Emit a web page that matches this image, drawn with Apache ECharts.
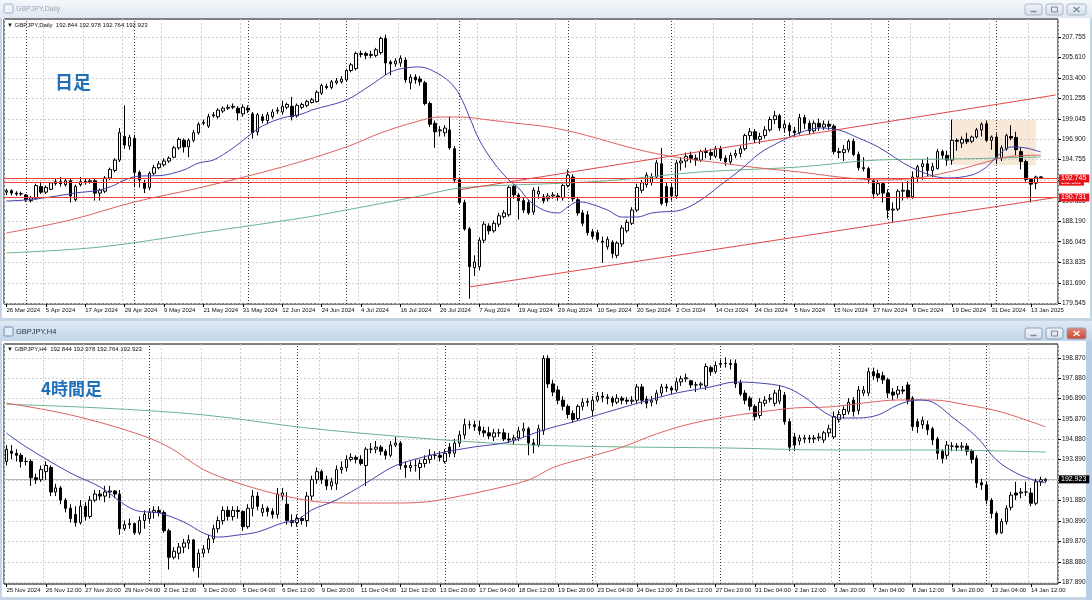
<!DOCTYPE html>
<html>
<head>
<meta charset="utf-8">
<title>GBPJPY Daily / H4</title>
<script src="https://cdn.jsdelivr.net/npm/echarts@6/dist/echarts.min.js"></script>
<style>
html,body{margin:0;padding:0;background:#c9d7e6;overflow:hidden;}
#chart{width:1092px;height:600px;}
</style>
</head>
<body>
<div id="chart"></div>
<script>
// ---------------- data ----------------
const quoteText = '192.844 192.978 192.764 192.923';
const dailyTimeLabels = ['26 Mar 2024','5 Apr 2024','17 Apr 2024','29 Apr 2024','9 May 2024','21 May 2024','31 May 2024','12 Jun 2024','24 Jun 2024','4 Jul 2024','16 Jul 2024','26 Jul 2024','7 Aug 2024','19 Aug 2024','29 Aug 2024','10 Sep 2024','20 Sep 2024','2 Oct 2024','14 Oct 2024','24 Oct 2024','5 Nov 2024','15 Nov 2024','27 Nov 2024','9 Dec 2024','19 Dec 2024','31 Dec 2024','13 Jan 2025'];
const h4TimeLabels = ['25 Nov 2024','26 Nov 12:00','27 Nov 20:00','29 Nov 04:00','2 Dec 12:00','3 Dec 20:00','5 Dec 04:00','6 Dec 12:00','9 Dec 20:00','11 Dec 04:00','12 Dec 12:00','13 Dec 20:00','17 Dec 04:00','18 Dec 12:00','19 Dec 20:00','23 Dec 04:00','24 Dec 12:00','26 Dec 12:00','27 Dec 20:00','31 Dec 04:00','2 Jan 12:00','3 Jan 20:00','7 Jan 04:00','8 Jan 12:00','9 Jan 20:00','13 Jan 04:00','14 Jan 12:00'];
const labelStep = 8;
const slotCount = 214;
const dailyPriceLabels = [207.755,205.610,203.400,201.255,199.045,196.900,194.755,192.545,190.335,188.190,186.045,183.835,181.690,179.545];
const h4PriceLabels = [198.870,197.880,196.890,195.870,194.880,193.890,192.880,191.880,190.890,189.870,188.880,187.890];
const dailyRange = [179.44, 209.66];
const h4Range = [187.79, 199.556];

// daily candles [open, close, low, high]
const dailyCandles = [
[191.30,191.45,191.00,191.65],[191.45,191.20,190.95,191.60],[191.20,191.10,190.90,191.40],[191.10,191.15,190.90,191.35],[191.00,190.50,190.30,191.10],
[190.40,190.70,190.20,190.90],[190.60,192.00,190.50,192.20],[191.90,191.30,191.10,192.40],[191.30,191.80,191.10,192.00],[191.60,192.30,191.50,192.40],
[192.20,192.40,192.00,192.80],[192.40,192.20,191.90,192.90],[192.10,192.50,191.90,192.80],[192.50,190.90,190.20,192.70],[190.50,191.90,190.30,192.10],
[192.10,192.40,191.90,192.90],[192.40,192.45,192.10,192.70],[192.40,192.50,192.20,192.80],[192.50,191.20,190.40,192.70],[191.20,191.50,190.40,191.70],
[191.40,192.80,191.20,193.00],[192.80,193.70,192.60,193.90],[193.60,194.70,193.40,194.90],[194.70,197.60,194.50,198.10],[197.20,196.30,195.90,200.50],
[196.20,197.10,195.80,197.40],[197.00,193.40,191.80,197.40],[193.40,192.60,191.80,193.60],[192.30,191.70,191.20,192.60],[191.80,193.30,191.50,193.50],
[193.30,193.90,193.10,194.20],[193.90,194.30,193.70,194.60],[194.20,194.60,194.00,194.90],[194.60,194.90,194.40,195.10],[195.00,196.00,194.90,196.20],
[196.00,196.90,195.80,197.10],[196.80,196.10,195.50,197.00],[196.10,196.80,195.00,197.00],[196.80,197.60,196.60,197.90],[197.60,198.50,197.40,198.70],
[198.60,198.70,198.40,199.00],[198.30,199.30,198.10,199.60],[199.40,199.50,199.20,199.80],[199.30,200.00,199.10,200.20],[199.90,200.20,199.70,200.40],
[200.20,200.30,200.00,200.60],[200.30,200.40,200.10,200.70],[200.20,199.70,198.90,200.40],[199.60,200.30,199.30,200.60],[200.20,200.00,199.70,200.50],
[199.60,197.60,197.00,199.80],[197.70,199.50,197.30,199.70],[199.30,198.90,198.60,199.60],[198.90,199.50,198.50,199.80],[199.30,199.80,199.10,200.10],
[199.90,200.00,199.60,200.30],[199.80,200.40,199.50,201.00],[200.30,200.60,200.10,200.80],[200.40,199.30,198.90,201.40],[199.40,200.50,199.20,200.70],
[200.30,200.60,200.10,200.80],[200.50,200.90,200.30,201.10],[200.80,201.10,200.70,201.30],[200.90,201.90,200.80,202.10],[201.80,202.60,201.60,202.80],
[202.50,202.40,202.20,202.80],[202.40,203.00,202.20,203.20],[202.90,203.10,202.70,203.40],[203.00,203.30,202.80,203.60],[203.20,204.20,203.00,204.40],
[204.20,204.80,204.00,205.00],[204.40,206.00,204.20,206.20],[205.90,206.00,205.60,206.30],[206.00,205.80,205.40,206.20],[205.80,205.90,205.50,206.30],
[205.80,206.40,205.60,206.60],[206.10,207.60,205.90,207.80],[207.60,205.00,203.70,208.00],[205.10,204.90,203.70,205.30],[204.90,205.20,204.60,205.50],
[205.00,205.50,204.60,205.80],[205.30,203.20,202.90,205.60],[202.90,203.50,202.20,203.80],[203.50,203.20,202.80,203.80],[203.30,203.00,202.60,203.60],
[202.90,200.70,200.50,203.10],[200.70,198.50,198.20,200.90],[198.60,197.70,196.00,198.90],[197.80,197.90,197.20,198.30],[197.60,198.10,197.20,198.40],
[197.90,196.00,195.80,199.30],[195.90,192.60,192.30,196.20],[192.60,190.20,190.00,192.90],[190.20,187.40,187.20,190.50],[187.40,183.40,180.00,187.60],
[183.30,183.90,182.40,184.60],[183.40,186.20,183.00,186.50],[186.20,187.90,185.90,188.20],[187.70,187.20,186.80,188.00],[187.20,188.00,187.00,188.30],
[187.90,188.80,187.60,189.10],[188.70,189.10,188.50,189.40],[188.90,191.80,188.70,192.00],[191.90,191.00,190.60,192.10],[191.00,190.40,188.40,191.20],
[190.40,189.40,189.10,190.70],[190.20,189.10,188.90,190.50],[189.20,191.50,188.90,191.80],[191.10,191.40,190.60,191.90],[190.80,190.40,190.10,191.10],
[190.60,190.90,190.30,191.20],[190.90,191.00,190.60,191.30],[190.90,190.80,190.40,191.20],[190.70,192.00,190.40,192.20],[192.00,193.10,191.80,193.70],
[192.90,190.60,190.30,193.20],[190.50,189.10,188.80,190.80],[189.10,188.00,187.70,189.40],[188.90,187.00,186.70,189.30],[187.10,186.60,186.30,187.40],
[187.00,186.30,186.00,187.30],[186.10,186.00,183.80,186.60],[185.50,186.30,185.20,186.60],[186.00,184.80,184.30,186.20],[184.60,185.90,184.30,186.10],
[185.80,187.50,185.50,187.80],[187.20,188.10,187.00,188.40],[188.00,189.40,187.80,189.70],[189.40,191.80,189.20,192.20],[191.50,192.30,191.20,192.60],
[192.10,193.10,191.80,193.40],[192.30,192.90,192.00,193.30],[192.90,194.40,192.70,194.70],[194.30,190.10,189.90,196.00],[191.90,190.20,189.80,192.30],
[191.80,190.90,190.40,192.20],[190.90,194.40,190.60,194.70],[194.40,194.60,193.60,195.00],[194.60,195.10,193.90,195.50],[195.20,194.90,194.40,195.60],
[194.90,194.70,194.10,195.30],[194.70,195.60,194.50,195.80],[195.60,195.50,194.90,196.00],[195.50,195.20,194.70,195.90],[195.10,195.90,194.90,196.20],
[195.90,194.90,194.60,196.20],[194.90,194.50,194.10,195.20],[194.50,195.20,194.20,195.50],[195.20,195.40,194.90,195.80],[195.40,195.90,195.00,196.20],
[195.90,197.30,195.70,197.50],[197.30,197.70,196.80,198.10],[197.70,196.90,196.50,198.00],[196.90,197.20,196.40,197.60],[197.30,197.90,197.00,198.30],
[197.90,199.00,197.70,199.30],[199.00,199.40,198.50,199.90],[199.40,198.10,197.80,199.60],[198.10,198.50,197.60,198.90],[198.40,197.80,197.20,198.70],
[197.80,197.60,197.10,198.20],[197.60,199.20,197.40,199.60],[199.20,198.60,198.00,199.50],[198.60,197.80,197.40,198.90],[197.80,198.60,197.60,198.90],
[198.60,198.20,197.80,199.10],[198.20,198.50,197.90,198.90],[198.50,198.30,197.90,198.90],[198.30,195.60,195.30,198.50],[195.60,195.50,194.90,196.00],
[195.50,195.80,194.60,196.30],[195.80,196.70,195.50,196.90],[196.70,195.30,195.10,197.00],[195.30,193.90,193.60,195.60],[193.90,193.80,193.50,195.00],
[193.80,192.60,192.20,194.00],[192.50,191.10,190.60,192.70],[191.10,192.20,190.90,192.60],[192.20,191.20,190.20,192.40],[191.20,189.40,188.50,191.60],
[189.40,189.50,188.10,190.20],[189.50,191.40,189.30,191.60],[191.40,191.50,190.40,192.40],[191.50,190.80,190.60,192.50],[190.80,192.90,190.60,193.50],
[192.90,194.00,192.40,194.20],[194.00,194.30,192.60,194.80],[194.30,193.60,193.00,195.00],[193.60,194.00,192.90,194.40],[193.80,195.60,193.70,195.90],
[195.60,195.20,194.80,195.80],[195.20,194.70,194.10,195.70],[194.70,196.80,194.20,199.00],[196.80,196.70,195.70,197.00],[196.50,196.90,196.00,197.20],
[196.90,196.65,196.40,197.60],[196.70,197.15,196.50,197.30],[197.15,197.90,197.00,198.10],[197.90,198.50,197.20,198.70],[198.55,196.80,196.60,198.90],
[196.80,197.15,195.80,197.30],[197.15,194.90,194.30,197.55],[194.90,196.00,194.60,196.25],[195.90,197.30,195.70,197.50],[197.20,197.05,196.80,198.40],
[197.10,195.80,195.20,197.70],[195.60,194.55,193.70,196.00],[194.55,192.65,192.40,194.75],[192.65,192.15,190.20,192.80],[192.25,192.90,191.60,193.05],
[192.844,192.923,192.764,192.978]
];

// H4 candles [open, close, low, high]
const h4Candles = [
[193.8,194.4,193.6,194.6],[194.3,194.2,193.9,194.6],[194.2,194.1,193.8,194.4],[194.1,193.8,193.5,194.2],[193.8,193.8,193.6,194.0],
[193.8,193.0,192.6,193.9],[193.0,192.9,192.7,193.2],[192.9,193.4,192.8,193.6],[193.3,193.6,192.9,193.8],[193.5,192.3,192.1,193.6],
[192.3,192.5,192.1,192.7],[192.5,191.9,191.7,192.6],[191.9,191.5,191.3,192.0],[191.5,191.0,190.8,191.7],[191.2,190.8,190.6,191.6],
[190.8,191.6,190.7,191.9],[191.6,191.1,190.9,191.8],[191.1,191.9,191.0,192.1],[191.9,192.2,191.8,192.4],[192.2,192.1,191.9,192.4],
[192.1,192.3,191.8,192.6],[192.3,192.35,192.0,192.6],[192.35,192.2,192.0,192.4],[192.2,190.5,190.2,192.4],[190.5,190.7,190.4,190.9],
[190.7,190.75,190.5,191.0],[190.75,190.3,190.2,190.8],[190.3,190.9,190.2,191.1],[190.9,191.2,190.5,191.4],[191.0,191.3,190.8,191.5],
[191.3,191.4,191.0,191.6],[191.4,191.3,191.1,191.6],[191.3,190.4,190.3,191.4],[190.4,189.1,188.5,190.5],[189.1,189.4,189.0,189.6],
[189.3,189.6,189.0,189.8],[189.6,189.8,189.3,190.0],[189.8,189.95,189.5,190.2],[189.95,188.6,188.4,190.0],[188.6,189.3,188.1,189.5],
[189.3,189.5,189.1,189.7],[189.5,190.0,189.3,190.2],[190.0,190.5,189.8,190.7],[190.5,190.9,190.3,191.1],[190.9,191.4,190.7,191.6],
[191.4,191.1,190.9,191.6],[191.1,191.4,190.9,191.6],[191.4,191.35,191.0,191.6],[191.35,190.6,190.4,191.4],[190.6,191.5,190.5,191.7],
[191.5,192.1,191.1,192.4],[192.1,191.6,191.4,192.3],[191.3,191.5,191.1,191.7],[191.5,191.35,191.1,191.6],[191.35,191.2,191.0,191.5],
[191.2,192.2,191.0,192.5],[192.1,192.25,191.9,192.5],[191.7,190.9,190.7,192.3],[190.9,190.8,190.6,191.2],[190.8,191.0,190.6,191.2],
[191.0,190.9,190.7,191.1],[190.9,192.1,190.6,192.3],[192.1,192.9,191.9,193.1],[192.9,193.3,192.7,193.5],[193.3,192.9,192.7,193.4],
[192.9,192.6,192.4,193.1],[192.6,192.8,192.4,193.0],[192.7,193.4,192.4,193.6],[193.4,193.5,193.2,193.8],[193.5,193.9,193.3,194.1],
[193.9,194.0,193.8,194.2],[194.0,193.9,193.7,194.1],[193.9,193.7,193.6,194.1],[193.6,194.4,192.6,194.5],[194.4,194.4,194.2,194.7],
[194.4,194.5,194.2,194.8],[194.5,194.3,194.1,194.6],[194.3,194.1,193.9,194.4],[194.1,194.6,194.0,194.8],[194.6,194.7,194.5,195.0],
[194.7,193.6,193.4,194.8],[193.6,193.5,193.0,193.8],[193.5,193.6,193.3,193.8],[193.6,193.6,193.3,193.9],[193.5,193.7,192.9,193.9],
[193.7,193.9,193.5,194.1],[193.9,194.1,193.7,194.4],[194.1,194.1,193.9,194.3],[194.1,194.0,193.8,194.3],[193.8,194.2,193.7,194.4],
[194.5,194.2,194.0,194.7],[194.2,194.7,194.0,194.9],[194.7,195.1,194.5,195.3],[195.1,195.6,194.9,195.9],[195.6,195.6,195.4,195.8],
[195.6,195.5,195.3,195.8],[195.5,195.3,195.1,195.8],[195.3,195.2,195.0,195.5],[195.2,195.05,194.9,195.5],[195.0,195.2,194.8,195.4],
[195.2,195.2,195.0,195.4],[195.2,194.9,194.8,195.4],[194.9,194.85,194.7,195.2],[194.85,194.95,194.6,195.1],[194.95,195.3,194.8,195.5],
[195.3,195.4,195.0,195.7],[195.4,194.7,194.1,195.5],[194.7,194.6,194.2,194.9],[194.6,195.4,194.5,195.6],[195.3,198.85,195.1,199.0],
[198.85,197.6,197.4,199.0],[197.6,197.2,197.0,197.8],[197.3,196.8,196.6,197.5],[196.8,196.5,196.3,197.0],[196.5,196.1,195.9,196.6],
[196.15,195.85,195.7,196.3],[195.9,196.5,195.8,196.6],[196.5,196.7,196.3,196.9],[196.7,196.75,196.5,196.9],[196.3,196.8,196.0,197.0],
[196.8,197.0,196.7,197.2],[197.0,196.95,196.7,197.2],[196.95,196.9,196.6,197.1],[196.9,196.7,196.5,197.0],[196.7,196.9,196.6,197.1],
[196.9,196.8,196.6,197.0],[196.8,196.75,196.6,196.95],[196.75,196.8,196.6,197.0],[196.8,197.45,196.6,197.6],[197.45,196.8,196.6,197.6],
[196.85,196.65,196.4,197.0],[196.7,196.8,196.5,197.0],[196.8,197.15,196.6,197.3],[197.15,197.45,197.0,197.6],[197.45,197.4,197.2,197.6],
[197.4,197.3,197.1,197.5],[197.3,197.7,197.2,197.9],[197.7,197.85,197.5,198.0],[197.85,197.9,197.7,198.1],[197.75,197.55,197.4,197.8],
[197.55,197.55,197.2,197.7],[197.55,197.6,197.4,197.7],[197.5,198.45,197.3,198.6],[198.4,198.2,198.0,198.5],[198.2,198.5,198.1,198.7],
[198.55,198.6,198.4,198.8],[198.6,198.6,198.4,198.9],[198.6,198.55,198.3,198.8],[198.6,197.6,197.4,198.8],[197.65,197.1,197.0,197.8],
[197.15,196.8,196.6,197.3],[196.9,196.5,196.3,197.0],[196.5,196.0,195.8,196.6],[196.05,196.7,195.9,196.9],[196.65,196.8,196.5,197.0],
[196.85,196.9,196.7,197.1],[196.65,197.15,196.5,197.3],[196.75,197.3,196.6,197.55],[197.05,195.75,195.6,197.2],[195.75,194.5,194.3,195.9],
[195.0,194.6,194.3,195.2],[194.8,194.95,194.6,195.1],[194.9,194.95,194.7,195.1],[194.95,194.9,194.7,195.1],[194.9,194.95,194.7,195.1],
[194.95,195.0,194.8,195.2],[194.85,195.2,194.7,195.3],[195.2,195.4,195.0,195.6],[195.0,196.0,194.9,196.25],[195.85,196.1,195.7,196.3],
[196.1,196.35,195.9,196.5],[196.25,196.7,196.1,196.9],[196.8,196.25,196.0,196.95],[196.3,197.3,196.1,197.5],[197.15,197.3,197.0,197.5],
[197.15,198.2,197.0,198.4],[198.2,198.0,197.8,198.4],[198.1,197.9,197.7,198.3],[198.0,197.8,197.6,198.2],[197.8,197.15,196.9,197.9],
[197.2,197.05,196.8,197.4],[197.1,197.3,196.9,197.5],[197.3,197.25,197.1,197.5],[197.55,196.8,196.6,197.7],[196.9,195.5,195.3,197.0],
[195.75,195.5,195.2,195.9],[195.6,195.8,195.4,196.0],[195.6,195.35,195.1,195.8],[195.4,194.85,194.6,195.5],[194.9,194.2,193.9,195.0],
[194.3,193.95,193.7,194.4],[194.1,194.6,193.9,194.8],[194.55,194.55,194.3,194.75],[194.55,194.5,194.3,194.7],[194.5,194.55,194.3,194.75],
[194.55,194.3,194.1,194.7],[194.3,193.9,193.7,194.4],[193.95,192.75,192.5,194.1],[192.75,192.65,192.4,192.95],[192.65,191.9,191.7,192.8],
[191.9,191.25,191.0,192.0],[191.25,190.3,190.2,191.35],[190.3,190.85,190.25,191.0],[190.85,191.5,190.7,191.65],[191.55,192.15,191.4,192.3],
[192.25,192.15,191.9,192.8],[192.25,192.3,192.0,192.5],[192.3,192.3,192.1,192.8],[192.25,191.75,191.6,192.5],[191.75,192.8,191.65,192.95],
[192.8,192.9,192.6,193.05],[192.844,192.923,192.764,192.978]
];

// moving averages: [bar index, price]
const dailyMaFast = [[0,190.36],[4,190.47],[9,190.79],[14,191.21],[19,191.53],[22,192.06],[24,192.59],[27,193.01],[31,193.05],[36,193.65],[39,194.39],[42,194.71],[46,195.98],[49,197.2],[52,198.32],[56,199.16],[60,199.59],[62,200.01],[69,201.07],[74,202.66],[78,204.04],[81,204.47],[84,204.57],[87,204.04],[90,202.98],[92,201.6],[94,199.27],[96,196.83],[99,194.39],[102,192.59],[104,191.74],[106,190.47],[109,189.41],[112,189.09],[114,189.73],[116,190.26],[118,190.15],[122,189.41],[125,188.66],[128,188.66],[131,189.09],[133,189.2],[137,189.41],[141,190.47],[145,192.06],[149,193.65],[153,195.45],[157,196.62],[161,197.58],[165,198.1],[169,197.89],[173,197.04],[177,196.09],[184,193.86],[191,192.8],[196,193.12],[199,193.97],[201,195.03],[204,196.09],[207,195.98],[210,195.56]];
const dailyMaMid = [[0,186.97],[13,188.35],[26,190.26],[39,191.74],[56,193.97],[69,196.09],[76,197.58],[83,198.74],[88,199.27],[92,199.27],[98,198.95],[103,198.64],[110,198.21],[115,197.68],[120,197.0],[124,196.4],[130,195.6],[137,194.92],[145,194.39],[153,193.86],[161,193.44],[169,192.91],[177,192.59],[185,192.8],[193,193.65],[199,194.5],[203,195.03],[210,195.24]];
const dailyMaSlow = [[0,184.85],[19,185.48],[39,186.97],[60,188.56],[69,189.41],[83,190.79],[92,191.74],[103,192.06],[114,192.27],[124,192.59],[141,193.44],[161,193.97],[177,194.71],[193,194.82],[210,195.03]];
const h4MaFast = [[0,195.19],[4,194.51],[13,193.23],[19,192.55],[26,191.42],[31,191.27],[36,190.83],[40,190.29],[43,190.09],[47,190.19],[51,190.34],[56,190.78],[59,190.93],[62,191.42],[67,191.91],[73,192.74],[78,193.48],[81,193.77],[88,194.21],[95,194.51],[102,194.75],[109,195.34],[115,195.73],[122,196.22],[129,196.71],[136,197.15],[143,197.45],[148,197.69],[153,197.64],[158,197.45],[162,196.96],[166,196.22],[169,195.93],[173,195.93],[177,196.08],[181,196.57],[185,196.81],[188,196.71],[192,195.98],[197,195.0],[201,193.87],[205,193.23],[209,192.85],[211,192.75]];
const h4MaMid = [[0,196.66],[13,196.08],[26,195.2],[33,194.5],[40,193.4],[47,192.74],[54,192.25],[59,191.98],[64,191.8],[71,191.76],[78,191.76],[85,191.81],[91,192.05],[98,192.4],[106,192.89],[111,193.5],[118,194.0],[125,194.5],[132,195.15],[139,195.65],[146,195.98],[153,196.22],[160,196.42],[167,196.47],[174,196.66],[181,196.81],[188,196.81],[195,196.57],[202,196.22],[211,195.49]];
const h4MaSlow = [[0,196.6],[19,196.42],[40,196.08],[61,195.44],[81,195.0],[95,194.75],[106,194.61],[125,194.51],[146,194.46],[167,194.36],[188,194.36],[211,194.26]];

// drawn objects
const dailyChannelUpper = [[92,191.55],[213,201.6]];
const dailyChannelLower = [[94,181.25],[213,190.73]];
const dailyLevels = [192.361, 192.745, 190.731];
const dailyZone = [[192,198.95],[209,194.18]];
const dailySeparators = [4,26,49,69,92,114,135,158,179,201];
const h4Separators = [29,59,89,119,145,169,199];
const h4Bid = 192.923;

// ---------------- chart ----------------
const FONT = 'Liberation Sans, Arial, sans-serif';
const slots = Array.from({length: slotCount}, (_, i) => 's' + i);

function showSlot(ticks) {
  return (i) => i % labelStep === 0 && (i / labelStep) < ticks.length;
}
function makeX(gridIndex, ticks) {
  const f = showSlot(ticks);
  return {
    type: 'category', gridIndex, data: slots, boundaryGap: true,
    axisLine: {show: false},
    axisTick: {show: true, alignWithLabel: true, interval: f, length: 3, lineStyle: {color: '#000', width: 1}},
    axisLabel: {interval: f, formatter: (v, i) => ticks[i / labelStep], fontSize: 6, fontFamily: FONT,
      color: '#111', align: 'left', margin: 3},
    splitLine: {show: true, interval: f, lineStyle: {color: '#cdcdcd', type: [2, 2], width: 1}}
  };
}
function makeY(gridIndex, range, ticks) {
  return {
    type: 'value', gridIndex, position: 'right', min: range[0], max: range[1],
    axisLine: {show: false},
    axisTick: {show: true, customValues: ticks, length: 3, lineStyle: {color: '#000'}},
    axisLabel: {customValues: ticks, formatter: (v) => v.toFixed(3), fontSize: 6.5, fontFamily: FONT, color: '#111', margin: 4},
    splitLine: {show: false}
  };
}
function maLine(xi, data, color) {
  return {type: 'line', xAxisIndex: xi, yAxisIndex: xi, data, showSymbol: false, smooth: 0.35,
    lineStyle: {color, width: 1}, z: 4, silent: true};
}
function candles(xi, data) {
  return {type: 'candlestick', xAxisIndex: xi, yAxisIndex: xi, data, barWidth: 3, z: 3, silent: true,
    itemStyle: {color: '#ffffff', color0: '#000000', borderColor: '#000000', borderColor0: '#000000', borderWidth: 1}};
}
function gridHelper(xi, priceTicks, seps, extra) {
  const s = {type: 'line', xAxisIndex: xi, yAxisIndex: xi, data: [], silent: true, z: 1,
    markLine: {silent: true, z: 1, symbol: ['none', 'none'], animation: false, label: {show: false},
      lineStyle: {color: '#cdcdcd', type: [2, 2], width: 1},
      data: priceTicks.map(v => ({yAxis: v})).concat(
        seps.map(i => ({xAxis: i, lineStyle: {color: '#3a3a3a', type: [1, 2], width: 1}})))}};
  return Object.assign(s, extra || {});
}
function levelLabel(text, bg, size) {
  return {show: true, position: 'end', distance: 1, formatter: () => text,
    color: '#fff', backgroundColor: bg, padding: [1, 3, 0, 2], fontSize: size, fontFamily: FONT};
}

const gradient = (a, b) => new echarts.graphic.LinearGradient(0, 0, 0, 1, [{offset: 0, color: a}, {offset: 1, color: b}]);
function buttons(y, active) {
  const els = [];
  const defs = [[1025, 17], [1046, 17], [1067, 19]];
  defs.forEach((d, k) => {
    const isClose = k === 2;
    els.push({type: 'rect', z: 50, shape: {x: d[0], y, width: d[1], height: 11, r: 2},
      style: {fill: isClose && active ? gradient('#e98a78', '#c9432f') : gradient('#f3f6fa', '#d3deea'), stroke: active ? '#8aa0b8' : '#a9b8c8', lineWidth: 1}});
    const cx = d[0] + d[1] / 2, cy = y + 5.5;
    const col = isClose && active ? '#fff' : '#7b8a9b';
    if (k === 0) els.push({type: 'line', z: 51, shape: {x1: cx - 3, y1: cy + 2, x2: cx + 3, y2: cy + 2}, style: {stroke: col, lineWidth: 1.5}});
    if (k === 1) els.push({type: 'rect', z: 51, shape: {x: cx - 3, y: cy - 2.5, width: 6, height: 5}, style: {fill: 'none', stroke: col, lineWidth: 1}});
    if (k === 2) {
      els.push({type: 'line', z: 51, shape: {x1: cx - 3, y1: cy - 2.5, x2: cx + 3, y2: cy + 2.5}, style: {stroke: col, lineWidth: 1.3}});
      els.push({type: 'line', z: 51, shape: {x1: cx + 3, y1: cy - 2.5, x2: cx - 3, y2: cy + 2.5}, style: {stroke: col, lineWidth: 1.3}});
    }
  });
  return els;
}

const chrome = [
  {type: 'rect', z: -20, shape: {x: 0, y: 0, width: 1092, height: 600}, style: {fill: '#c6d5e5'}},
  {type: 'rect', z: -19, shape: {x: 0, y: 0, width: 1092, height: 18}, style: {fill: gradient('#f5f8fb', '#e0e7f0')}},
  {type: 'rect', z: -19, shape: {x: 2, y: 18, width: 1088, height: 300}, style: {fill: '#ffffff'}},
  {type: 'rect', z: -19, shape: {x: 0, y: 321, width: 1092, height: 20}, style: {fill: gradient('#dfe9f4', '#c3d5e9')}},
  {type: 'rect', z: -19, shape: {x: 2, y: 341, width: 1084, height: 256}, style: {fill: '#ffffff'}},
  {type: 'rect', z: -18, shape: {x: 1086, y: 341, width: 6, height: 259}, style: {fill: '#b9cfe7'}},
  // title icons + titles
  {type: 'rect', z: 50, shape: {x: 4, y: 4, width: 9, height: 9, r: 1}, style: {fill: '#eef3f8', stroke: '#9fb3ca', lineWidth: 1}},
  {type: 'text', z: 50, style: {x: 16, y: 9, text: 'GBPJPY,Daily', fill: '#9aa6b5', fontSize: 7, fontFamily: FONT, verticalAlign: 'middle'}},
  {type: 'rect', z: 50, shape: {x: 4, y: 327, width: 9, height: 9, r: 1}, style: {fill: '#e4edf6', stroke: '#6f8fb3', lineWidth: 1}},
  {type: 'text', z: 50, style: {x: 16, y: 332, text: 'GBPJPY,H4', fill: '#1f2d3d', fontSize: 7.5, fontFamily: FONT, verticalAlign: 'middle'}},
  // chart headers
  {type: 'text', z: 60, style: {x: 7, y: 25, text: '\u25BC GBPJPY,Daily  ' + quoteText, fill: '#111', fontSize: 6, fontFamily: FONT, verticalAlign: 'middle'}},
  {type: 'text', z: 60, style: {x: 7, y: 349, text: '\u25BC GBPJPY,H4  ' + quoteText, fill: '#111', fontSize: 6, fontFamily: FONT, verticalAlign: 'middle'}},
  {type: 'text', z: 60, style: {x: 55, y: 82, text: '日足', fill: '#1f70b8', fontSize: 18, fontWeight: 'bold', fontFamily: 'Noto Sans CJK JP', verticalAlign: 'middle'}},
  {type: 'text', z: 60, style: {x: 41, y: 389, text: '4時間足', fill: '#1f70b8', fontSize: 17, fontWeight: 'bold', fontFamily: 'Noto Sans CJK JP', verticalAlign: 'middle'}}
].concat(buttons(4, false), buttons(328, true));

const option = {
  animation: false,
  backgroundColor: 'transparent',
  textStyle: {fontFamily: FONT},
  graphic: {elements: chrome},
  grid: [
    {left: 4, right: 34, top: 19, height: 285, show: true, backgroundColor: '#fff', borderColor: '#000', borderWidth: 1},
    {left: 4, right: 34, top: 344, height: 240, show: true, backgroundColor: '#fff', borderColor: '#000', borderWidth: 1}
  ],
  xAxis: [makeX(0, dailyTimeLabels), makeX(1, h4TimeLabels)],
  yAxis: [makeY(0, dailyRange, dailyPriceLabels), makeY(1, h4Range, h4PriceLabels)],
  series: [
    // daily
    gridHelper(0, dailyPriceLabels, dailySeparators, {
      markArea: {silent: true, z: 1, itemStyle: {color: 'rgba(243,222,200,0.7)'},
        data: [[{xAxis: dailyZone[0][0], yAxis: dailyZone[0][1]}, {xAxis: dailyZone[1][0], yAxis: dailyZone[1][1]}]]}
    }),
    candles(0, dailyCandles),
    maLine(0, dailyMaSlow, '#6db38f'),
    maLine(0, dailyMaMid, '#e06060'),
    maLine(0, dailyMaFast, '#4545b0'),
    {type: 'line', xAxisIndex: 0, yAxisIndex: 0, data: dailyChannelUpper, showSymbol: false, lineStyle: {color: '#e04848', width: 1}, z: 5, silent: true},
    {type: 'line', xAxisIndex: 0, yAxisIndex: 0, data: dailyChannelLower, showSymbol: false, lineStyle: {color: '#e04848', width: 1}, z: 5, silent: true},
    {type: 'line', xAxisIndex: 0, yAxisIndex: 0, data: [], silent: true, z: 6,
      markLine: {silent: true, z: 6, symbol: ['none', 'none'], lineStyle: {color: '#ee4040', type: 'solid', width: 1},
        data: dailyLevels.map((v, k) => ({yAxis: v, label: levelLabel(v.toFixed(3), '#e8141c', k === 0 ? 5.5 : 7)}))}},
    // H4
    gridHelper(1, h4PriceLabels, h4Separators, {}),
    {type: 'line', xAxisIndex: 1, yAxisIndex: 1, data: [], silent: true, z: 2,
      markLine: {silent: true, z: 2, symbol: ['none', 'none'], lineStyle: {color: '#b8b8b8', type: 'solid', width: 1},
        data: [{yAxis: h4Bid, label: levelLabel(h4Bid.toFixed(3), '#000', 7)}]}},
    candles(1, h4Candles),
    maLine(1, h4MaSlow, '#6db38f'),
    maLine(1, h4MaMid, '#e06060'),
    maLine(1, h4MaFast, '#4545b0')
  ]
};

const chart = echarts.init(document.getElementById('chart'), null, {renderer: 'canvas', width: 1092, height: 600});
chart.setOption(option);
</script>
</body>
</html>
